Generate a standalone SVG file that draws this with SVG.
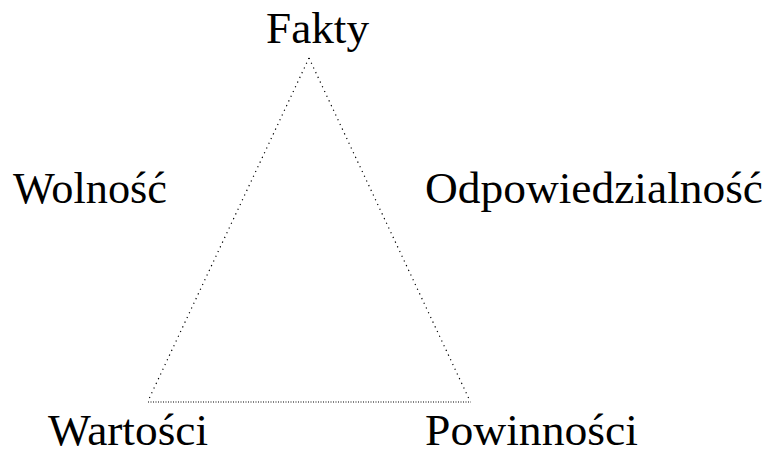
<svg xmlns="http://www.w3.org/2000/svg" width="772" height="450" viewBox="0 0 772 450">
  <style>
    .lbl { font-family: "Liberation Serif", "Times New Roman", serif; font-size: 44px; fill: #000; }
    .side { stroke: #000; stroke-width: 1.2; stroke-dasharray: 1.2 4; fill: none; }
    .base { stroke: #000; stroke-width: 1.2; stroke-dasharray: 1 1.5; fill: none; }
  </style>
  <rect width="772" height="450" fill="#fff"/>
  <g id="connectors">
    <line class="side" x1="309" y1="58" x2="148" y2="401"/>
    <line class="side" x1="309" y1="58" x2="470" y2="401"/>
    <line class="base" x1="148" y1="402" x2="471" y2="402"/>
  </g>
  <g id="fakty"><text class="lbl" x="266" y="43" textLength="103" lengthAdjust="spacingAndGlyphs">Fakty</text></g>
  <g id="wolnosc"><text class="lbl" x="13" y="203" textLength="154" lengthAdjust="spacingAndGlyphs">Wolność</text></g>
  <g id="odpowiedzialnosc"><text class="lbl" x="425" y="203" textLength="338" lengthAdjust="spacingAndGlyphs">Odpowiedzialność</text></g>
  <g id="wartosci"><text class="lbl" x="48" y="445" textLength="160" lengthAdjust="spacingAndGlyphs">Wartości</text></g>
  <g id="powinnosci"><text class="lbl" x="425" y="445" textLength="213" lengthAdjust="spacingAndGlyphs">Powinności</text></g>
</svg>
